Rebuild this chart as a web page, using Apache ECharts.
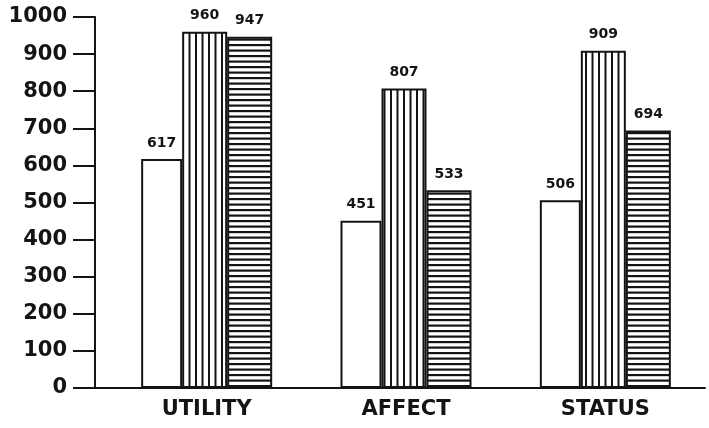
<!DOCTYPE html>
<html>
<head>
<meta charset="utf-8">
<script src="https://cdn.jsdelivr.net/npm/echarts@6/dist/echarts.min.js"></script>
<style>
  html, body { margin: 0; padding: 0; background: #fff; }
  #chart { width: 709px; height: 428px; }
</style>
</head>
<body>
<div id="chart"></div>
<script>
// Category names along the bottom axis
const categories = ['UTILITY', 'AFFECT', 'STATUS'];
// Three bars per category: plain, vertical hatching, horizontal hatching
const plainValues = [617, 451, 506];
const verticalValues = [960, 807, 909];
const horizontalValues = [947, 533, 694];
// Value axis range
const yMin = 0;
const yMax = 1000;
const yStep = 100;

const INK = '#141414';
const FONT = 'DejaVu Sans';

// Build a repeating hatch fill
function hatch(vertical) {
  const c = document.createElement('canvas');
  const ctx = c.getContext('2d');
  if (vertical) {
    c.width = 13; c.height = 4;
    ctx.fillStyle = '#fff'; ctx.fillRect(0, 0, 13, 4);
    ctx.fillStyle = INK;
    ctx.fillRect(0, 0, 2, 4);
    ctx.fillRect(6.5, 0, 2, 4);
  } else {
    c.width = 4; c.height = 11;
    ctx.fillStyle = '#fff'; ctx.fillRect(0, 0, 4, 11);
    ctx.fillStyle = INK;
    ctx.fillRect(0, 0, 4, 2.2);
    ctx.fillRect(0, 5.5, 4, 2.2);
  }
  return { image: c, repeat: 'repeat' };
}

const valueLabel = {
  show: true,
  position: 'top',
  distance: 9,
  color: INK,
  fontFamily: FONT,
  fontWeight: 'bold',
  fontSize: 14
};

function barSeries(name, data, fill, width) {
  return {
    name: name,
    type: 'bar',
    data: data,
    barWidth: width,
    barGap: '0%',
    itemStyle: { color: fill, borderColor: INK, borderWidth: 2 },
    label: valueLabel,
    emphasis: { disabled: true },
    animation: false
  };
}

const chart = echarts.init(document.getElementById('chart'), null, { renderer: 'canvas' });

const gridLeft = 107;
const axisOffset = 12;
const tickLen = 22;

chart.setOption({
  backgroundColor: '#fff',
  animation: false,
  grid: { left: gridLeft, right: 4, top: 17, bottom: 40, containLabel: false },
  xAxis: {
    type: 'category',
    data: categories,
    axisLine: { show: true, lineStyle: { color: INK, width: 2 } },
    axisTick: { show: false },
    axisLabel: {
      color: INK,
      fontFamily: FONT,
      fontWeight: 'bold',
      fontSize: 21,
      margin: 11
    }
  },
  yAxis: {
    type: 'value',
    min: yMin,
    max: yMax,
    interval: yStep,
    offset: axisOffset,
    axisLine: { show: true, lineStyle: { color: INK, width: 2 } },
    axisTick: { show: true, length: tickLen, lineStyle: { color: INK, width: 2 } },
    axisLabel: {
      color: INK,
      fontFamily: FONT,
      fontWeight: 'bold',
      fontSize: 21,
      margin: 28,
      formatter: function (v) { return String(v); }
    },
    splitLine: { show: false }
  },
  series: [
    barSeries('plain', plainValues, '#fff', 41),
    barSeries('vertical', verticalValues, hatch(true), 45),
    barSeries('horizontal', horizontalValues, hatch(false), 45)
  ]
});

// Extend the baseline left to meet the zero tick of the offset value axis
const baseY = chart.convertToPixel({ yAxisIndex: 0 }, 0);
chart.setOption({
  graphic: [{
    type: 'line',
    shape: { x1: gridLeft - axisOffset - tickLen, y1: baseY, x2: gridLeft, y2: baseY },
    style: { stroke: INK, lineWidth: 2 },
    silent: true
  }]
});
</script>
</body>
</html>
